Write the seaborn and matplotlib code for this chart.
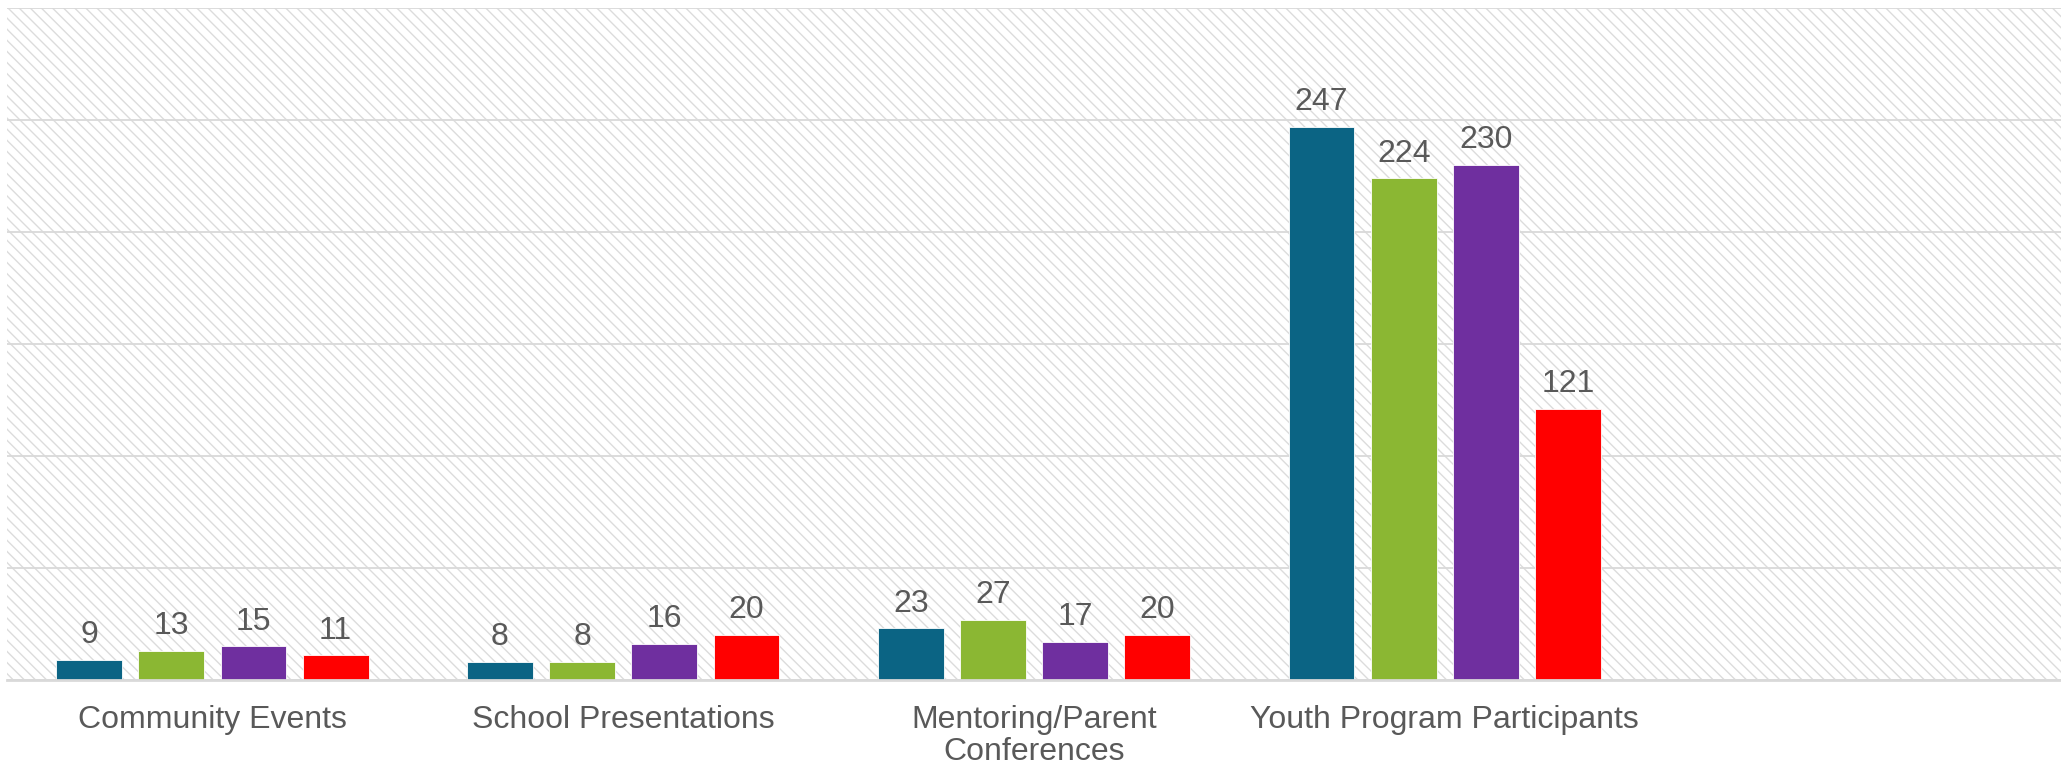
import pandas as pd
import seaborn as sns
import matplotlib.pyplot as plt
from matplotlib.patches import Rectangle

# values
categories = ['Community Events', 'School Presentations',
              'Mentoring/Parent\nConferences', 'Youth Program Participants']
series = ['Series 1', 'Series 2', 'Series 3', 'Series 4']
series_1 = [9, 8, 23, 247]
series_2 = [13, 8, 27, 224]
series_3 = [15, 16, 17, 230]
series_4 = [11, 20, 20, 121]
colors = ['#0b6484', '#8bb733', '#6f2f9f', '#ff0000']

rows = []
for name, vals in zip(series, [series_1, series_2, series_3, series_4]):
    for cat, v in zip(categories, vals):
        rows.append({'category': cat, 'series': name, 'value': v})
df = pd.DataFrame(rows)

sns.set_theme(style='white')
plt.rcParams['font.family'] = ['Liberation Sans', 'DejaVu Sans']
plt.rcParams['hatch.linewidth'] = 1.0

fig = plt.figure(figsize=(20.61, 7.68), dpi=100)
ax = fig.add_axes([7 / 2061, 88 / 768, 2054 / 2061, 672 / 768])

# hatched plot-area background
ax.add_patch(Rectangle((0, 0), 1, 1, transform=ax.transAxes, facecolor='white',
                       edgecolor='#dcdcdc', hatch='\\\\\\', linewidth=0, zorder=0))

sns.barplot(data=df, x='category', y='value', hue='series', order=categories,
            hue_order=series, palette=colors, saturation=1, width=0.8, gap=0.2,
            edgecolor='white', linewidth=0.6, legend=False, ax=ax, zorder=2)

for cont in ax.containers:
    ax.bar_label(cont, padding=7, fontsize=23, color='#595959')

ax.set_xlim(-0.5, 4.5)
ax.set_ylim(0, 300)
ax.set_yticks(range(0, 301, 50))
ax.set_axisbelow(True)
ax.yaxis.grid(True, color='#d9d9d9', linewidth=1.3)
ax.tick_params(axis='x', length=0, pad=18, labelsize=23, labelcolor='#595959')
ax.tick_params(axis='y', length=0, labelleft=False)
for lbl in ax.get_xticklabels():
    lbl.set_linespacing(1.1)
ax.set_xlabel('')
ax.set_ylabel('')
for side in ['left', 'right', 'top']:
    ax.spines[side].set_visible(False)
ax.spines['bottom'].set_color('#d9d9d9')
ax.spines['bottom'].set_linewidth(2)

fig.savefig('out.png', dpi=100)
plt.close()
